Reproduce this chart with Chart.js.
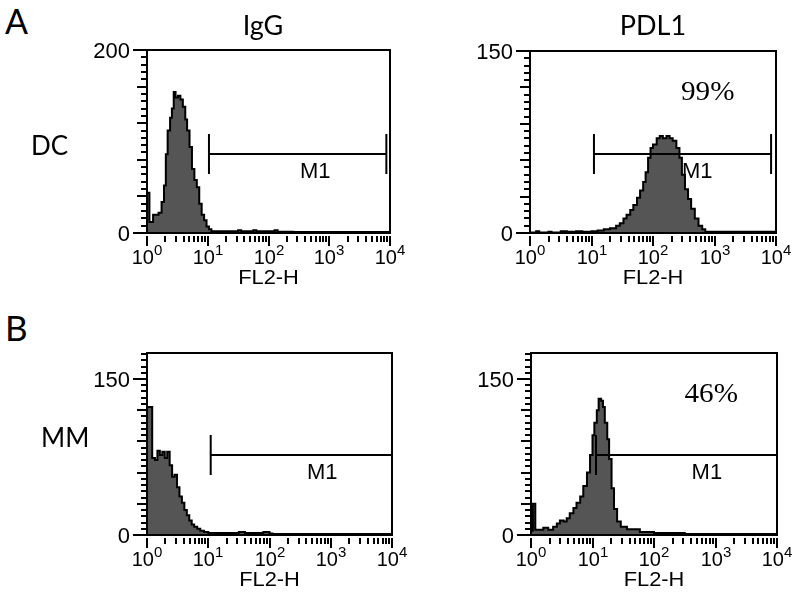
<!DOCTYPE html>
<html>
<head>
<meta charset="utf-8">
<script src="https://cdn.jsdelivr.net/npm/chart.js@4.4.0/dist/chart.umd.min.js"></script>
<style>
  body { margin: 0; width: 800px; height: 603px; background: #fff; position: relative; overflow: hidden; }
  canvas { position: absolute; }
  .lbl { position: absolute; white-space: nowrap; color: #000; line-height: 1; font-family: Lato, "Open Sans", sans-serif; }
  .c { transform: translateX(-50%); }
</style>
</head>
<body>
<canvas id="p1"></canvas>
<canvas id="p2"></canvas>
<canvas id="p3"></canvas>
<canvas id="p4"></canvas>

<div class="lbl" style="left:5px;top:4px;font-size:34px">A</div>
<div class="lbl" style="left:5px;top:310px;font-size:35px">B</div>
<div class="lbl c" style="left:263px;top:11px;font-size:27px">IgG</div>
<div class="lbl c" style="left:653px;top:11px;font-size:27px">PDL1</div>
<div class="lbl" style="left:31px;top:132px;font-size:26px">DC</div>
<div class="lbl" style="left:41px;top:424px;font-size:26px">MM</div>

<script>
// x values are log10(FL2-H) in decades, y values are cell counts

// DC, IgG isotype
const dcIgGLog   = [0, 0.04, 0.1, 0.19, 0.24, 0.28, 0.31, 0.34, 0.38, 0.41, 0.44, 0.47, 0.51, 0.55, 0.59, 0.63, 0.66, 0.7, 0.74, 0.78, 0.82, 0.86, 0.9, 0.94, 0.98, 1.02, 1.06, 1.5, 1.55, 1.75, 1.8, 2.1, 2.15, 2.4, 4];
const dcIgGCount = [44, 12, 20, 22, 34, 52, 86, 112, 126, 136, 154, 148, 150, 146, 138, 124, 112, 94, 70, 58, 50, 32, 20, 14, 7, 4, 2, 3, 2, 3, 2, 3, 1.5, 1, 1];

// DC, PDL1
const dcPdl1Log   = [0, 0.1, 0.15, 0.3, 0.35, 0.5, 0.6, 0.75, 0.85, 1.0, 1.1, 1.2, 1.3, 1.4, 1.46, 1.52, 1.57, 1.63, 1.68, 1.74, 1.79, 1.84, 1.88, 1.92, 1.96, 2.0, 2.06, 2.11, 2.16, 2.22, 2.27, 2.32, 2.38, 2.43, 2.47, 2.52, 2.57, 2.62, 2.68, 2.74, 2.8, 2.85, 4];
const dcPdl1Count = [0.5, 1.5, 0.5, 1, 0.5, 1.5, 1, 1.5, 1, 1.5, 2, 3, 4, 6, 8, 12, 15, 19, 23, 29, 35, 42, 50, 62, 70, 73, 78, 80, 78, 80, 78, 76, 70, 62, 48, 36, 28, 20, 12, 6, 3, 1, 0];

// MM, IgG isotype
const mmIgGLog   = [0, 0.085, 0.13, 0.17, 0.21, 0.25, 0.29, 0.33, 0.37, 0.41, 0.45, 0.49, 0.53, 0.57, 0.61, 0.65, 0.69, 0.73, 0.77, 0.82, 0.87, 0.93, 1.0, 1.1, 1.3, 1.5, 1.6, 1.9, 2.0, 2.05, 4];
const mmIgGCount = [123, 74, 72, 81, 77, 80, 74, 80, 67, 56, 58, 46, 37, 31, 24, 19, 14, 10, 8, 6, 4, 3, 2, 2, 2, 3, 2, 3, 1.5, 1, 1];

// MM, PDL1
const mmPdl1Log   = [0, 0.03, 0.07, 0.2, 0.28, 0.36, 0.42, 0.47, 0.53, 0.58, 0.63, 0.69, 0.74, 0.8, 0.85, 0.91, 0.96, 1.0, 1.03, 1.07, 1.1, 1.14, 1.17, 1.2, 1.24, 1.27, 1.31, 1.35, 1.4, 1.46, 1.56, 1.77, 2.0, 2.5, 4];
const mmPdl1Count = [4, 30, 5, 7, 5, 8, 11, 14, 13, 16, 21, 26, 31, 37, 47, 60, 77, 96, 108, 120, 131, 129, 123, 108, 92, 73, 45, 25, 13, 8, 5.5, 3, 2, 1, 1];

// axis ticks
const decadeExponents = ['0', '1', '2', '3', '4'];
const minorMultipliers = [2, 3, 4, 5, 6, 7, 8, 9];

// M1 marker: [start, end] in decades and the count level it is drawn at
const dcIgGGate  = [1.02, 3.94, 86];
const dcPdl1Gate = [1.04, 3.92, 65];
const mmIgGGate  = [1.04, 4, 77];
const mmPdl1Gate = [1.057, 4, 77];

const percentLabels = ['99%', '46%'];

const SANS = '"Liberation Sans", Arial, sans-serif';

function stretchText(ctx, txt, x, y, font, align, sx) {
  ctx.save();
  ctx.font = font;
  ctx.textBaseline = 'alphabetic';
  ctx.textAlign = 'left';
  const w = ctx.measureText(txt).width * sx;
  const x0 = align === 'center' ? x - w / 2 : align === 'right' ? x - w : x;
  ctx.translate(x0, y);
  ctx.scale(sx, 1);
  ctx.fillText(txt, 0, 0);
  ctx.restore();
  return w;
}

function facsPlugin(p) {
  return {
    id: 'facs',
    afterDatasetsDraw(chart) {
      const { ctx, chartArea: a, scales: { x, y } } = chart;
      ctx.save();
      ctx.strokeStyle = '#000';
      ctx.fillStyle = '#000';
      ctx.lineWidth = 2;
      ctx.lineCap = 'butt';

      // frame
      ctx.strokeRect(a.left, a.top, a.right - a.left, a.bottom - a.top);

      // y ticks (outside, left)
      const n = Math.floor(p.yMax / p.yMinor + 1e-6);
      for (let i = 0; i <= n; i++) {
        const v = i * p.yMinor;
        const py = Math.round(y.getPixelForValue(v));
        let len = 6;
        if (p.yLabels.includes(v)) len = 14;
        else if (v % p.yMedium === 0) len = 10;
        ctx.beginPath();
        ctx.moveTo(a.left, py);
        ctx.lineTo(a.left - len, py);
        ctx.stroke();
      }
      p.yLabels.forEach(v => {
        const py = y.getPixelForValue(v);
        stretchText(ctx, String(v), a.left - 17, py + 8, '22px ' + SANS, 'right', 1);
      });

      // x ticks (log decades, outside, below)
      const t0 = a.bottom + 3;
      decadeExponents.forEach((e, d) => {
        const px = Math.round(x.getPixelForValue(d));
        ctx.beginPath();
        ctx.moveTo(px, t0);
        ctx.lineTo(px, t0 + 10);
        ctx.stroke();
        if (d < 4) {
          minorMultipliers.forEach(m => {
            const mx = Math.round(x.getPixelForValue(d + Math.log10(m)));
            ctx.beginPath();
            ctx.moveTo(mx, t0);
            ctx.lineTo(mx, t0 + 6);
            ctx.stroke();
          });
        }
        // label 10^e
        ctx.font = '20px ' + SANS;
        const w1 = ctx.measureText('10').width;
        ctx.font = '15px ' + SANS;
        const w2 = ctx.measureText(e).width;
        const x0 = px - (w1 + w2) / 2;
        stretchText(ctx, '10', x0, a.bottom + 31, '20px ' + SANS, 'left', 1);
        stretchText(ctx, e, x0 + w1, a.bottom + 22, '15px ' + SANS, 'left', 1);
      });
      stretchText(ctx, 'FL2-H', (a.left + a.right) / 2, a.bottom + 51, '21px ' + SANS, 'center', 1.04);

      // M1 marker
      const [g0, g1, gl] = p.gate;
      const gx0 = x.getPixelForValue(g0);
      const gx1 = Math.min(x.getPixelForValue(g1), a.right);
      const gy = Math.round(y.getPixelForValue(gl));
      ctx.beginPath();
      ctx.moveTo(gx0, gy);
      ctx.lineTo(gx1, gy);
      ctx.moveTo(gx0, gy - 20);
      ctx.lineTo(gx0, gy + 20);
      if (p.rightBar) {
        ctx.moveTo(gx1, gy - 20);
        ctx.lineTo(gx1, gy + 20);
      }
      ctx.stroke();
      stretchText(ctx, 'M1', x.getPixelForValue(p.m1x), gy + 24, '22px ' + SANS, 'center', 1);

      if (p.pct) {
        stretchText(ctx, p.pct, x.getPixelForValue(p.pctAt[0]), y.getPixelForValue(p.pctAt[1]),
          '27px "Liberation Serif", "Times New Roman", serif', 'center', 1.08);
      }
      ctx.restore();
    }
  };
}

function makePanel(id, p) {
  const pad = { left: 90, top: 12, right: 30, bottom: 70 };
  const cv = document.getElementById(id);
  const W = p.box.r - p.box.l + pad.left + pad.right;
  const H = p.box.b - p.box.t + pad.top + pad.bottom;
  cv.width = W;
  cv.height = H;
  cv.style.left = (p.box.l - pad.left) + 'px';
  cv.style.top = (p.box.t - pad.top) + 'px';
  cv.style.width = W + 'px';
  cv.style.height = H + 'px';

  new Chart(cv, {
    type: 'line',
    data: {
      datasets: [{
        data: p.xs.map((v, i) => ({ x: v, y: p.ys[i] })),
        stepped: true,
        fill: 'origin',
        backgroundColor: '#555555',
        borderColor: '#000',
        borderWidth: 2,
        pointRadius: 0
      }]
    },
    options: {
      responsive: false,
      animation: false,
      layout: { padding: pad },
      scales: {
        x: { type: 'linear', min: 0, max: 4, display: false },
        y: { min: 0, max: p.yMax, display: false }
      },
      plugins: { legend: { display: false }, tooltip: { enabled: false } }
    },
    plugins: [facsPlugin(p)]
  });
}

makePanel('p1', {
  box: { l: 147, t: 50, r: 390, b: 233 },
  xs: dcIgGLog, ys: dcIgGCount,
  yMax: 200, yMinor: 8, yMedium: 40, yLabels: [0, 200],
  gate: dcIgGGate, rightBar: true, m1x: 2.77
});
makePanel('p2', {
  box: { l: 530, t: 51, r: 776, b: 233 },
  xs: dcPdl1Log, ys: dcPdl1Count,
  yMax: 150, yMinor: 6, yMedium: 30, yLabels: [0, 150],
  gate: dcPdl1Gate, rightBar: true, m1x: 2.72,
  pct: percentLabels[0], pctAt: [2.89, 110]
});
makePanel('p3', {
  box: { l: 147, t: 353, r: 392, b: 535 },
  xs: mmIgGLog, ys: mmIgGCount,
  yMax: 175, yMinor: 6, yMedium: 30, yLabels: [0, 150],
  gate: mmIgGGate, rightBar: false, m1x: 2.86
});
makePanel('p4', {
  box: { l: 531, t: 353, r: 777, b: 535 },
  xs: mmPdl1Log, ys: mmPdl1Count,
  yMax: 175, yMinor: 6, yMedium: 30, yLabels: [0, 150],
  gate: mmPdl1Gate, rightBar: false, m1x: 2.86,
  pct: percentLabels[1], pctAt: [2.93, 128]
});
</script>
</body>
</html>
